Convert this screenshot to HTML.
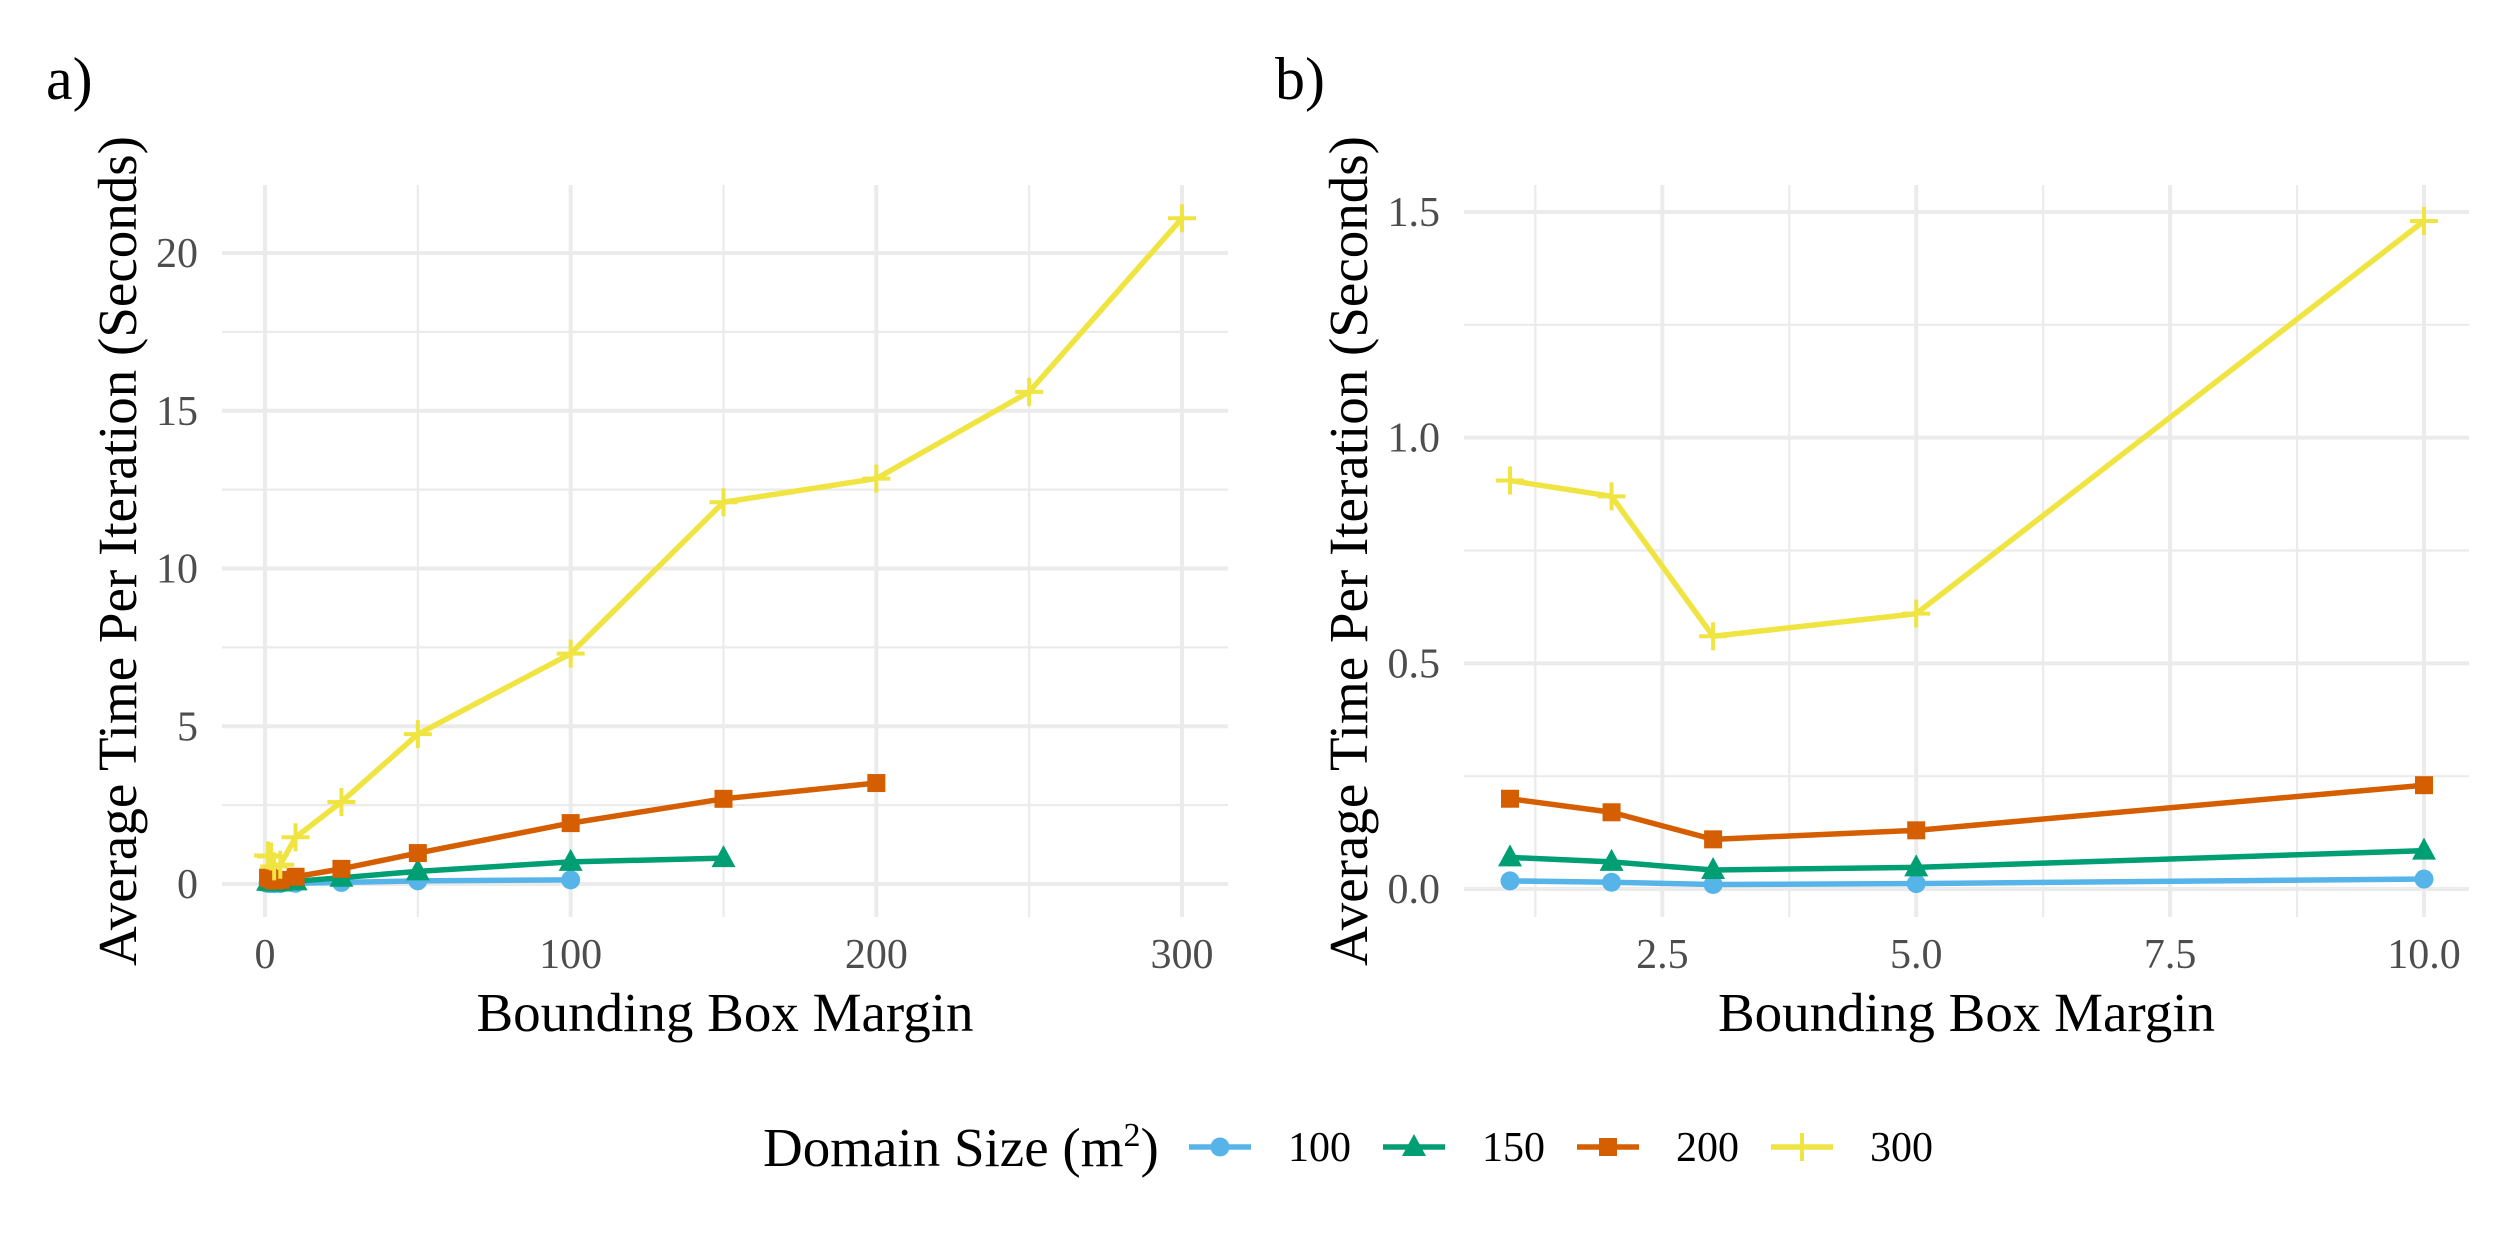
<!DOCTYPE html>
<html><head><meta charset="utf-8"><style>
html,body{margin:0;padding:0;background:#fff;}
svg{display:block;font-family:"Liberation Serif",serif;}
</style></head><body>
<svg id="chart" width="2519" height="1259" viewBox="0 0 2519 1259">
<text x="46" y="99" font-size="60">a)</text>
<text x="1275" y="99" font-size="60">b)</text>
<g id="pa"></g>
<g id="pb"></g>
<g id="legend">
<text x="763" y="1166" font-size="55">Domain Size (m<tspan font-size="34" dy="-20">2</tspan><tspan dy="20">)</tspan></text>
</g>
</svg>
<script>
const seriesNames = ["100","150","200","300"];
const colors = ["#56B4E9","#009E73","#D55E00","#F0E442"];
const shapes = ["circle","triangle","square","cross"];
// Panel a data
const xA100 = [1,2,3,5,10,25,50,100];
const yA100 = [0.018,0.015,0.01,0.012,0.022,0.05,0.1,0.13];
const xA150 = [1,2,3,5,10,25,50,100,150];
const yA150 = [0.07,0.06,0.042,0.048,0.085,0.2,0.4,0.7,0.82];
const xA200 = [1,2,3,5,10,25,50,100,150,200];
const yA200 = [0.2,0.17,0.11,0.13,0.23,0.48,0.98,1.93,2.7,3.2];
const xA300 = [1,2,3,5,10,25,50,100,150,200,250,300];
const yA300 = [0.905,0.87,0.56,0.61,1.48,2.6,4.75,7.3,12.1,12.85,15.6,21.1];
// Panel b data
const xB = [1,2,3,5,10];
const yB100 = [0.018,0.015,0.01,0.012,0.022];
const yB150 = [0.07,0.06,0.042,0.048,0.085];
const yB200 = [0.2,0.17,0.11,0.13,0.23];
const yB300 = [0.905,0.87,0.56,0.61,1.48];
// ticks
const aXTicks = [0,100,200,300], aXTickLabels = ["0","100","200","300"], aXMinor = [50,150,250];
const aYTicks = [0,5,10,15,20], aYTickLabels = ["0","5","10","15","20"], aYMinor = [2.5,7.5,12.5,17.5];
const bXTicks = [2.5,5,7.5,10], bXTickLabels = ["2.5","5.0","7.5","10.0"], bXMinor = [1.25,3.75,6.25,8.75];
const bYTicks = [0,0.5,1,1.5], bYTickLabels = ["0.0","0.5","1.0","1.5"], bYMinor = [0.25,0.75,1.25];

const NS="http://www.w3.org/2000/svg";
function mk(tag,attrs,parent){const e=document.createElementNS(NS,tag);for(const k in attrs)e.setAttribute(k,attrs[k]);parent.appendChild(e);return e;}
function marker(g,shape,cx,cy,col){
  let e;
  if(shape==="circle"){e=mk("circle",{cx:cx,cy:cy,r:9.5,fill:col},g);}
  else if(shape==="triangle"){e=mk("polygon",{points:`${cx},${cy-13} ${cx+12},${cy+9} ${cx-12},${cy+9}`,fill:col},g);}
  else if(shape==="square"){e=mk("rect",{x:cx-9,y:cy-9,width:18,height:18,fill:col},g);}
  else {e=mk("path",{d:`M${cx-14},${cy}H${cx+14}M${cx},${cy-14}V${cy+14}`,stroke:col,"stroke-width":4,fill:"none"},g);}
  return e;
}
function panel(g,cfg){
  const sx=v=>cfg.px0+(v-cfg.x0)*(cfg.px1-cfg.px0)/(cfg.x1-cfg.x0);
  const sy=v=>cfg.py0+(v-cfg.y0)*(cfg.py1-cfg.py0)/(cfg.y1-cfg.y0);
  const L=cfg.L,R=cfg.R,T=185,B=917;
  cfg.yMinor.forEach(v=>{const l=mk("line",{x1:L,x2:R,y1:sy(v),y2:sy(v),stroke:"#ebebeb","stroke-width":2.2},g);
    
    });
  cfg.xMinor.forEach(v=>{const l=mk("line",{x1:sx(v),x2:sx(v),y1:T,y2:B,stroke:"#ebebeb","stroke-width":2.2},g);
    
    });
  cfg.yTicks.forEach((v,i)=>{const l=mk("line",{x1:L,x2:R,y1:sy(v),y2:sy(v),stroke:"#ebebeb","stroke-width":4},g);
    
    
    const t=mk("text",{x:L-24,y:sy(v)+14,"text-anchor":"end","font-size":42,fill:"#4d4d4d"},g);t.textContent=cfg.yLabels[i];
    
    });
  cfg.xTicks.forEach((v,i)=>{const l=mk("line",{x1:sx(v),x2:sx(v),y1:T,y2:B,stroke:"#ebebeb","stroke-width":4},g);
    
    
    const t=mk("text",{x:sx(v),y:968,"text-anchor":"middle","font-size":42,fill:"#4d4d4d"},g);t.textContent=cfg.xLabels[i];
    
    });
  cfg.series.forEach((s,k)=>{
    const sg=mk("g",{},g);
    
    
    const pts=s.x.map((xv,i)=>sx(xv)+","+sy(s.y[i])).join(" ");
    const pl=mk("polyline",{points:pts,fill:"none",stroke:colors[k],"stroke-width":5.5,"stroke-linejoin":"round"},sg);
    
    
    s.x.forEach((xv,i)=>{const m=marker(sg,shapes[k],sx(xv),sy(s.y[i]),colors[k]);
      
      });
  });
  const xt=mk("text",{x:(L+R)/2,y:1031,"text-anchor":"middle","font-size":55},g);xt.textContent="Bounding Box Margin";
  
  
  const yt=mk("text",{x:0,y:0,"text-anchor":"middle","font-size":55,transform:`translate(${cfg.ytx},551) rotate(-90)`},g);
  yt.textContent="Average Time Per Iteration (Seconds)";
  
  
}
panel(document.getElementById("pa"),{x0:0,x1:300,px0:265,px1:1182,y0:0,y1:20,py0:884,py1:253,L:222,R:1228,ytx:136,
  xTicks:aXTicks,xLabels:aXTickLabels,xMinor:aXMinor,yTicks:aYTicks,yLabels:aYTickLabels,yMinor:aYMinor,
  series:[{x:xA100,y:yA100},{x:xA150,y:yA150},{x:xA200,y:yA200},{x:xA300,y:yA300}]});
panel(document.getElementById("pb"),{x0:1,x1:10,px0:1510,px1:2424,y0:0,y1:1.5,py0:889,py1:212,L:1464,R:2469,ytx:1367,
  xTicks:bXTicks,xLabels:bXTickLabels,xMinor:bXMinor,yTicks:bYTicks,yLabels:bYTickLabels,yMinor:bYMinor,
  series:[{x:xB,y:yB100},{x:xB,y:yB150},{x:xB,y:yB200},{x:xB,y:yB300}]});
// legend
const lg=document.getElementById("legend");
const keyCenters=[1220,1414,1608,1802];
seriesNames.forEach((n,k)=>{
  const g=mk("g",{},lg);
  
  
  const c=keyCenters[k];
  mk("line",{x1:c-31,x2:c+31,y1:1147,y2:1147,stroke:colors[k],"stroke-width":5.5},g);
  marker(g,shapes[k],c,1147,colors[k]);
  const t=mk("text",{x:c+68,y:1161,"font-size":42},g);t.textContent=n;
  
  
});
</script>
</body></html>
